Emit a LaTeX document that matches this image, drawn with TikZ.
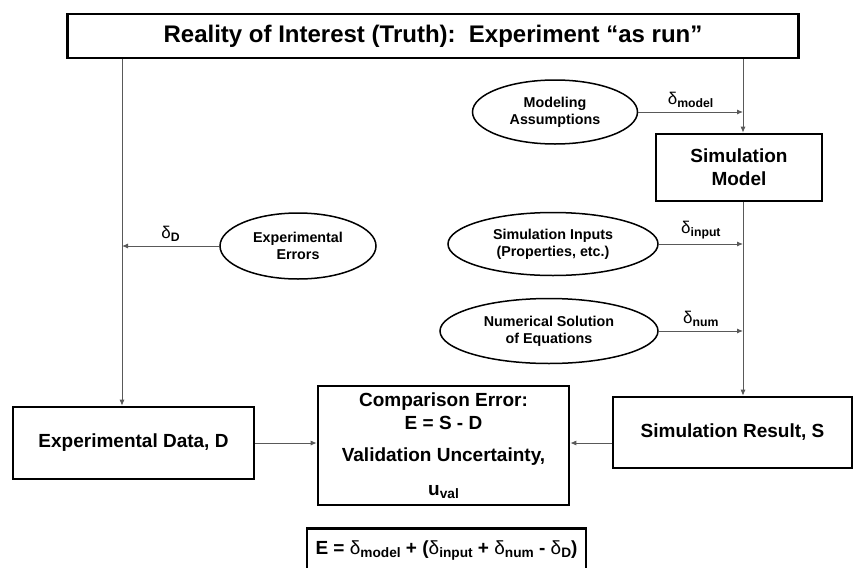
\documentclass[tikz,border=0pt]{standalone}
\usepackage{fontspec}
\setmainfont{Liberation Sans}
\usetikzlibrary{arrows.meta, positioning, shapes.geometric}

\newcommand{\lowtext}[1]{\raisebox{-0.3ex}{\scalebox{0.72}{#1}}}
\newcommand{\dsub}[1]{{\mdseries δ}\lowtext{\bfseries #1}}

\begin{document}
\begin{tikzpicture}[x=1pt, y=-1pt,
    box/.style={rectangle, draw, line width=2.6pt, align=center, inner sep=0pt,
                font=\bfseries\fontsize{19}{23}\selectfont},
    oval/.style={ellipse, draw, line width=1.5pt, align=center, inner sep=0pt,
                 font=\bfseries\fontsize{14.3}{17}\selectfont},
    arrow/.style={-{Latex[length=6pt, width=5pt]}, line width=0.9pt, draw=black!65},
    deltalabel/.style={font=\bfseries\fontsize{17}{20}\selectfont, above=1pt},
]
\useasboundingbox (0,0) rectangle (855,568);

% Truth
\node[box, minimum width=731pt, minimum height=44pt,
      font=\bfseries\fontsize{24}{28}\selectfont] (truth) at (433,36)
      {Reality of Interest (Truth):\ \ Experiment “as run”};

% columns of the two vertical paths
\coordinate (xl) at (122,0);
\coordinate (xr) at (743,0);

% Simulation side
\node[oval, minimum width=165pt, minimum height=64pt] (assume) at (555,112) {Modeling\\Assumptions};
\node[box, minimum width=166pt, minimum height=67pt] (simmodel) at (739,167.5) {Simulation\\Model};
\node[oval, minimum width=210pt, minimum height=63pt] (inputs) at (553,244) {Simulation Inputs\\(Properties, etc.)};
\node[oval, minimum width=218pt, minimum height=65pt] (numsol) at (549,331) {Numerical Solution\\of Equations};
\node[box, minimum width=239pt, minimum height=71pt] (simres) at (732.5,432.5) {Simulation Result, S};

% Experiment side
\node[oval, minimum width=156pt, minimum height=66pt] (experr) at (298,246) {Experimental\\Errors};
\node[box, minimum width=241pt, minimum height=72pt] (expdata) at (133.5,443) {Experimental Data, D};

% Comparison
\node[box, minimum width=251pt, minimum height=119pt] (compare) at (443.5,445.5)
      {Comparison Error:\\E = S - D\\[9pt]Validation Uncertainty,\\[11pt]u\lowtext{val}};
\node[box, minimum width=279pt, minimum height=44pt, anchor=north] (errsum) at (446.5,527)
      {E = \dsub{model} + (\dsub{input} + \dsub{num} - \dsub{D})};

% Connectors
\draw[arrow] (truth.south -| xl) -- (expdata.north -| xl);
\draw[arrow] (truth.south -| xr) -- (simmodel.north -| xr);
\draw[arrow] (simmodel.south -| xr) -- (simres.north -| xr);

\draw[arrow] (assume.east) -- (assume.east -| xr) node[midway, deltalabel] {\dsub{model}};
\draw[arrow] (inputs.east) -- (inputs.east -| xr) node[midway, deltalabel] {\dsub{input}};
\draw[arrow] (numsol.east) -- (numsol.east -| xr) node[midway, deltalabel] {\dsub{num}};
\draw[arrow] (experr.west) -- (experr.west -| xl) node[midway, deltalabel] {\dsub{D}};

\draw[arrow] (expdata.east) -- (expdata.east -| compare.west);
\draw[arrow] (simres.west |- expdata.east) -- (compare.east |- expdata.east);

\end{tikzpicture}
\end{document}
